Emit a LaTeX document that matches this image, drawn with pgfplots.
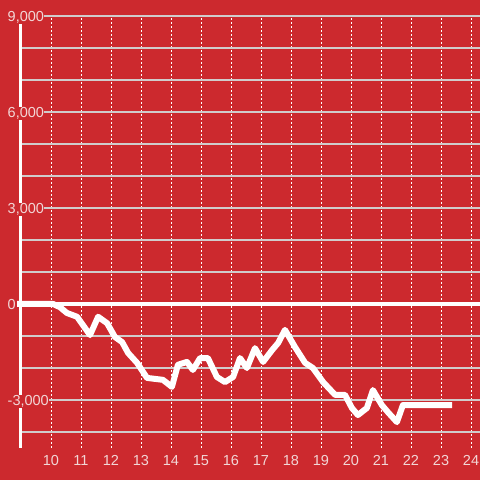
\documentclass[border=0pt]{standalone}
\usepackage{pgfplots}
\pgfplotsset{compat=1.18}
\usepackage{fontspec}
\setmainfont{Liberation Sans}
\definecolor{bgred}{RGB}{204,41,46}
\definecolor{txt}{RGB}{242,214,214}
\definecolor{gridc}{RGB}{208,204,204}
\begin{document}
\begin{tikzpicture}
\fill[bgred] (0,0) rectangle (480pt,480pt);
\useasboundingbox (0,0) rectangle (480pt,480pt);
\begin{axis}[
    at={(21pt,32pt)}, anchor=south west,
    scale only axis, width=459pt, height=432pt,
    xmin=9, xmax=24.3, ymin=-4500, ymax=9000,
    axis y line*=left, axis x line*=bottom,
    x axis line style={draw=none},
    y axis line style={draw=white, line width=3pt},
    major tick length=0pt, minor tick length=0pt,
    xtick={10,...,24},
    ytick={-3000,0,3000,6000,9000},
    minor ytick={-4000,-2000,-1000,1000,2000,4000,5000,7000,8000},
    xmajorgrids, ymajorgrids, yminorgrids,
    x grid style={white, line width=0.9pt, dash pattern=on 2pt off 2pt},
    y grid style={gridc, line width=1.2pt},
    minor y grid style={gridc, line width=1.2pt},
    scaled y ticks=false,
    yticklabel={\pgfmathprintnumber[assume math mode=true,1000 sep={,}]{\tick}},
    /pgf/number format/assume math mode=true,
    tick label style={font=\fontsize{14.5}{16}\selectfont, text=txt},
    xticklabel style={anchor=base, yshift=-18pt},
    yticklabel style={anchor=base west, xshift=-14pt, yshift=-6pt, fill=bgred, inner sep=0.5pt},
    clip=false,
]
\draw[white, line width=3.5pt] (axis cs:8.87,0) -- (axis cs:24.3,0);
\addplot[white, line width=6pt, line join=round, mark=none] coordinates {
 (8.87,0)(10.07,0)(10.3,-100)(10.53,-280)(10.87,-400)(11.3,-970)(11.57,-400)(11.87,-600)
 (12.13,-1030)(12.37,-1190)(12.57,-1530)(12.87,-1840)(13.2,-2310)(13.73,-2370)
 (14.03,-2590)(14.23,-1900)(14.53,-1810)(14.73,-2060)(14.97,-1690)(15.23,-1690)
 (15.53,-2280)(15.8,-2440)(16.07,-2280)(16.3,-1690)(16.53,-2000)(16.8,-1380)
 (17.07,-1810)(17.37,-1440)(17.57,-1220)(17.8,-810)(18.13,-1340)(18.47,-1840)
 (18.73,-2000)(19.07,-2440)(19.47,-2840)(19.8,-2840)(20.03,-3250)(20.23,-3470)
 (20.53,-3250)(20.73,-2690)(21.03,-3160)(21.23,-3380)(21.53,-3690)(21.73,-3160)
 (21.97,-3160)(23.37,-3160)
};
\end{axis}
\end{tikzpicture}
\end{document}
